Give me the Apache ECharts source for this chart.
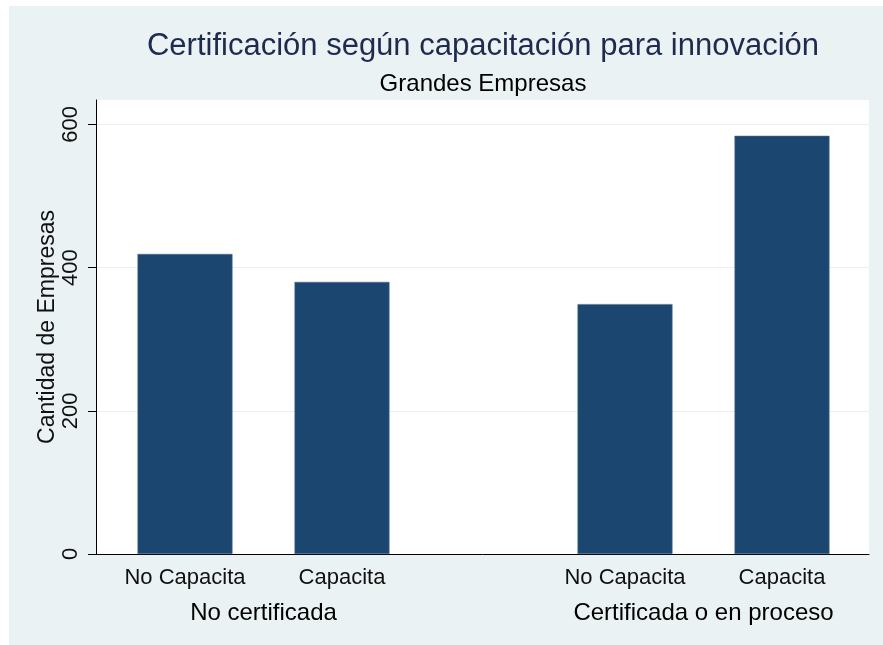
<!DOCTYPE html>
<html>
<head>
<meta charset="utf-8">
<script src="https://cdn.jsdelivr.net/npm/echarts@6/dist/echarts.min.js"></script>
<style>
  html, body { margin: 0; padding: 0; background: #ffffff; }
  #chart { position: absolute; left: 9px; top: 6px; width: 874px; height: 639px; }
</style>
</head>
<body>
<div id="chart"></div>
<script>
// values
const groupNames = ['No certificada', 'Certificada o en proceso'];
const trainingLabels = ['No Capacita', 'Capacita'];
const noCertValues = [419, 380];
const certValues = [349, 584];
const yTicks = [0, 200, 400, 600];

const chartDom = document.getElementById('chart');
const myChart = echarts.init(chartDom, null, { renderer: 'canvas' });

const font = 'Liberation Sans, Arial, sans-serif';
const barColor = '#1a4670';
const yMax = 634;

// one grid for the white plot area and y axis, one per group for the bars
const plotTop = 94;
const plotHeight = 454;

function groupXAxis(gridIndex, name) {
    return {
        type: 'category',
        gridIndex: gridIndex,
        data: trainingLabels,
        axisLine: { show: false },
        axisTick: { show: false },
        axisLabel: {
            interval: 0,
            hideOverlap: false,
            margin: 13,
            fontFamily: font,
            fontSize: 22,
            color: '#111'
        },
        name: name,
        nameLocation: 'middle',
        nameGap: 47,
        nameTextStyle: {
            fontFamily: font,
            fontSize: 24,
            color: '#000'
        }
    };
}

function hiddenYAxis(gridIndex) {
    return {
        type: 'value',
        gridIndex: gridIndex,
        min: 0,
        max: yMax,
        show: false
    };
}

let option = {
    backgroundColor: '#eaf2f3',
    animation: false,
    title: [
        {
            text: 'Certificación según capacitación para innovación',
            left: 474,
            top: 25,
            textAlign: 'center',
            padding: 0,
            textStyle: {
                fontFamily: font,
                fontSize: 31,
                fontWeight: 'normal',
                color: '#1e2b4f'
            }
        },
        {
            text: 'Grandes Empresas',
            left: 474,
            top: 66,
            textAlign: 'center',
            padding: 0,
            textStyle: {
                fontFamily: font,
                fontSize: 24,
                fontWeight: 'normal',
                color: '#000'
            }
        }
    ],
    grid: [
        {
            left: 87, top: plotTop, width: 773, height: plotHeight,
            show: true, backgroundColor: '#ffffff', borderWidth: 0
        },
        { left: 97.5, top: plotTop, width: 314, height: plotHeight },
        { left: 537.5, top: plotTop, width: 314, height: plotHeight }
    ],
    xAxis: [
        {
            type: 'value',
            gridIndex: 0,
            min: 0,
            max: 1,
            axisLine: { show: true, lineStyle: { color: '#000', width: 1 } },
            axisTick: { show: false },
            axisLabel: { show: false },
            splitLine: { show: false }
        },
        groupXAxis(1, groupNames[0]),
        groupXAxis(2, groupNames[1])
    ],
    yAxis: [
        {
            type: 'value',
            gridIndex: 0,
            min: 0,
            max: yMax,
            interval: 200,
            name: 'Cantidad de Empresas',
            nameLocation: 'middle',
            nameRotate: 90,
            nameGap: 37,
            nameMoveOverlap: false,
            nameTextStyle: {
                fontFamily: font,
                fontSize: 23,
                color: '#111'
            },
            axisLine: { show: true, lineStyle: { color: '#000', width: 1 } },
            axisTick: {
                show: true,
                length: 8,
                customValues: yTicks,
                lineStyle: { color: '#000' }
            },
            axisLabel: {
                rotate: 90,
                margin: 14,
                customValues: yTicks,
                fontFamily: font,
                fontSize: 22,
                color: '#111'
            },
            splitLine: { show: true, lineStyle: { color: '#e8f0f3', width: 1 } }
        },
        hiddenYAxis(1),
        hiddenYAxis(2)
    ],
    series: [
        {
            type: 'bar',
            xAxisIndex: 1,
            yAxisIndex: 1,
            data: noCertValues,
            barWidth: 95,
            itemStyle: { color: barColor, borderColor: '#4d6d92', borderWidth: 0.6 }
        },
        {
            type: 'bar',
            xAxisIndex: 2,
            yAxisIndex: 2,
            data: certValues,
            barWidth: 95,
            itemStyle: { color: barColor, borderColor: '#4d6d92', borderWidth: 0.6 }
        }
    ]
};

option && myChart.setOption(option);
</script>
</body>
</html>
